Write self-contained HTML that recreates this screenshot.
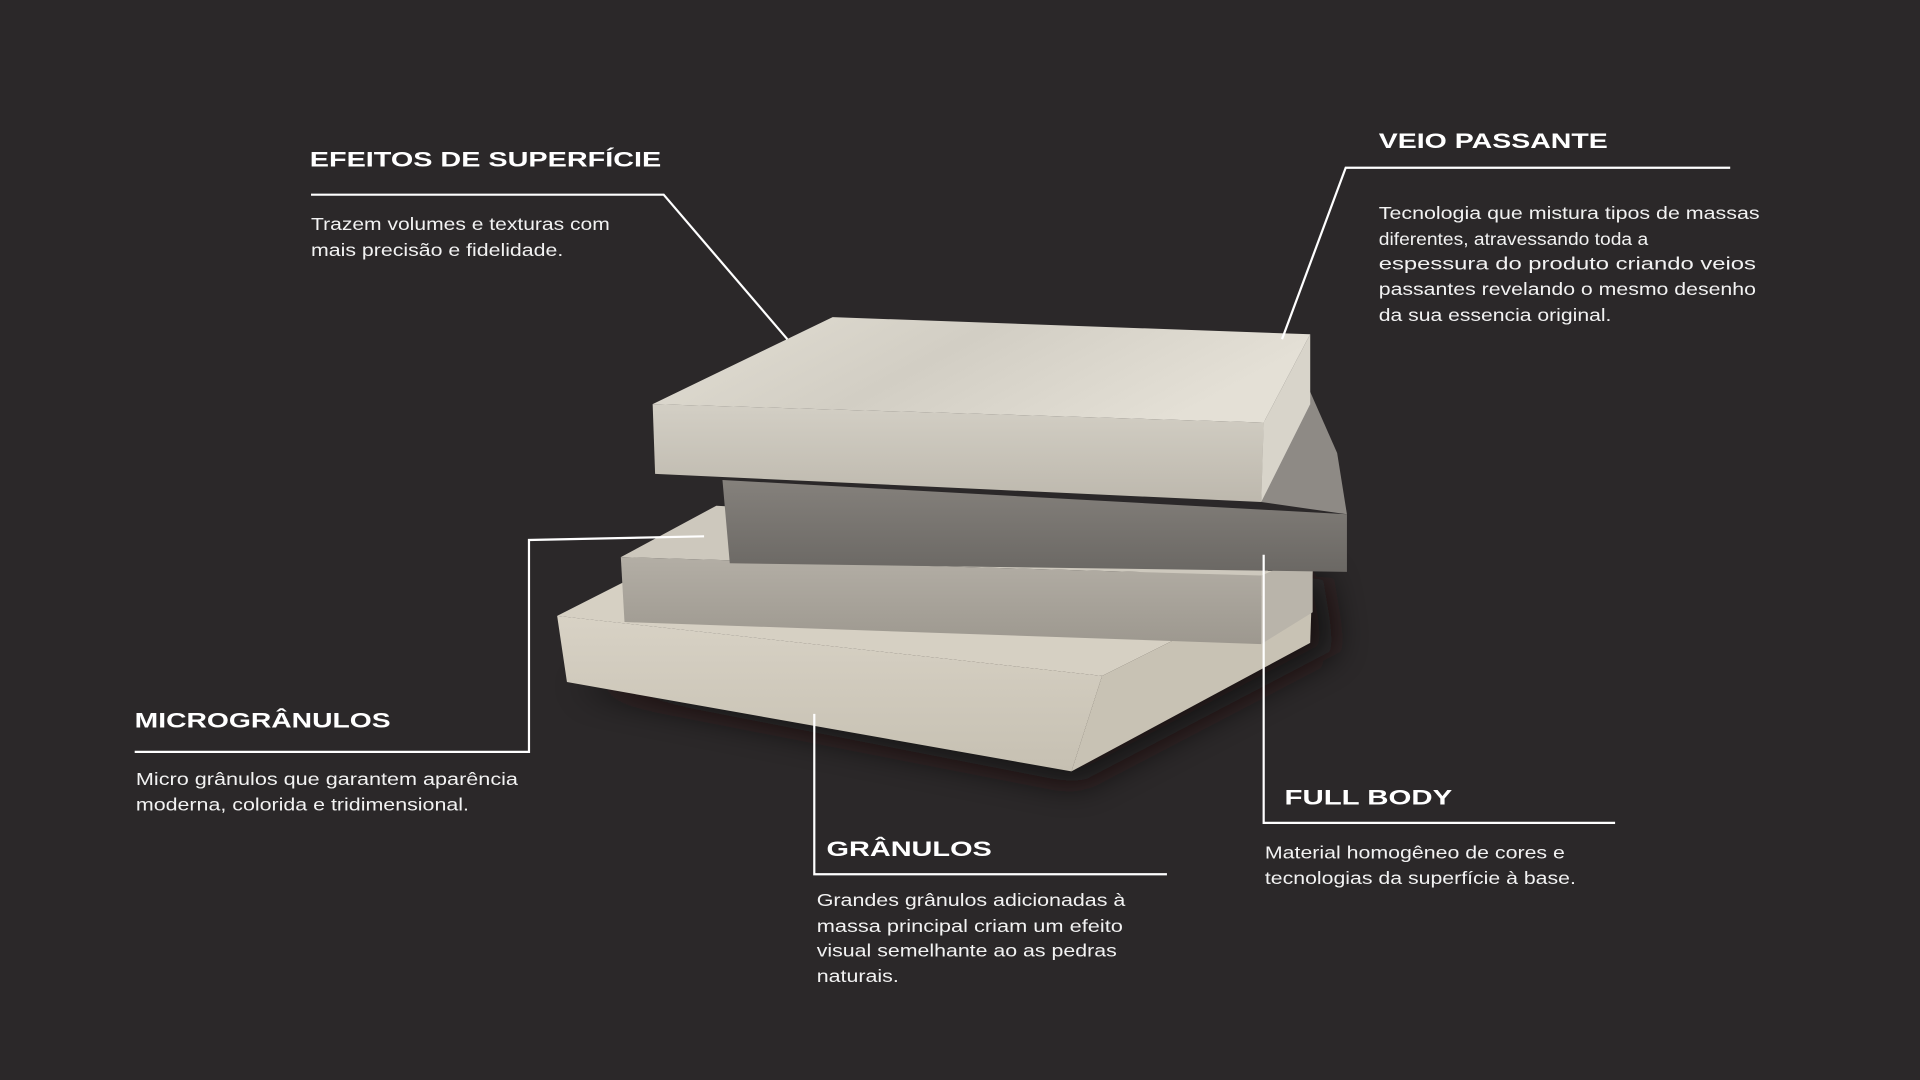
<!DOCTYPE html>
<html><head><meta charset="utf-8"><style>
html,body{margin:0;padding:0;background:#2b2829;width:1920px;height:1080px;overflow:hidden}
svg{display:block}
.t{font-family:"Liberation Sans",sans-serif;font-weight:bold;font-size:17.5px;fill:#fff}
.b{font-family:"Liberation Sans",sans-serif;font-size:14.5px;fill:#f2f2f2}
.l{fill:none;stroke:#fff;stroke-width:1.8}
</style></head><body>
<svg width="1920" height="1080" viewBox="0 0 1568 882" xmlns="http://www.w3.org/2000/svg">
<defs>
<filter id="bl" x="-50%" y="-50%" width="200%" height="200%"><feGaussianBlur stdDeviation="14"/></filter>
<linearGradient id="topg" x1="0" y1="0" x2="1" y2="0.3"><stop offset="0" stop-color="#e2ded3"/><stop offset="0.5" stop-color="#d2cec4"/><stop offset="1" stop-color="#e4e0d6"/></linearGradient>
<linearGradient id="frg" x1="0" y1="0" x2="0" y2="1"><stop offset="0" stop-color="#d3cfc5"/><stop offset="1" stop-color="#bdb8ad"/></linearGradient>
<linearGradient id="dkg" x1="0" y1="0" x2="0" y2="1"><stop offset="0" stop-color="#85817c"/><stop offset="1" stop-color="#6b6864"/></linearGradient>
<linearGradient id="mdg" x1="0" y1="0" x2="0" y2="1"><stop offset="0" stop-color="#b3aea5"/><stop offset="1" stop-color="#9d988f"/></linearGradient>
<linearGradient id="btg" x1="0" y1="0" x2="0" y2="1"><stop offset="0" stop-color="#d8d2c5"/><stop offset="1" stop-color="#c6c0b2"/></linearGradient>
</defs>
<rect width="1568" height="882" fill="#2b2829"/>
<polygon points="470,560 880,640 1090,530 1080,470" fill="#121011" filter="url(#bl)" opacity="0.85"/>
<!-- bottom slab -->
<polygon points="455,503 520,470 1072,466 900,552" fill="#d6d0c3"/>
<polygon points="455,503 900,552 875,630 463,557" fill="url(#btg)"/>
<polygon points="900,552 1072,466 1070,525 875,630" fill="#c8c2b4"/>
<!-- third slab -->
<polygon points="507,455 585,413 1072,440 1030,470" fill="#cdc8bd"/>
<polygon points="507,455 1030,470 1030,526 510,508" fill="url(#mdg)"/>
<polygon points="1030,470 1072,452 1072,500 1030,526" fill="#b9b4aa"/>
<!-- second slab -->
<polygon points="1030,345 1070,320 1092,370 1100,420 1030,410" fill="#8e8a85"/>
<polygon points="590,392 1100,420 1100,467 596,460" fill="url(#dkg)"/>
<!-- top slab -->
<polygon points="533,330 680,259 1070,273 1032,345" fill="url(#topg)"/>
<polygon points="533,330 1032,345 1030,410 535,387" fill="url(#frg)"/>
<polygon points="1032,345 1070,273 1070,330 1030,410" fill="#d8d4ca"/>
<!-- connectors -->
<path class="l" d="M254 159 H542 L643 277"/>
<path class="l" d="M1047 277 L1099 137 H1413"/>
<path class="l" d="M110 614 H432 V441 L575 438"/>
<path class="l" d="M665 583 V714 H953"/>
<path class="l" d="M1032 453 V672 H1319"/>
<!-- titles -->
<text class="t" x="253" y="136" textLength="287" lengthAdjust="spacingAndGlyphs">EFEITOS DE SUPERFÍCIE</text>
<text class="t" x="1126" y="121" textLength="187" lengthAdjust="spacingAndGlyphs">VEIO PASSANTE</text>
<text class="t" x="110" y="594" textLength="209" lengthAdjust="spacingAndGlyphs">MICROGRÂNULOS</text>
<text class="t" x="675" y="699" textLength="135" lengthAdjust="spacingAndGlyphs">GRÂNULOS</text>
<text class="t" x="1049" y="657" textLength="137" lengthAdjust="spacingAndGlyphs">FULL BODY</text>
<!-- bodies -->
<text class="b" x="254" y="188" textLength="244" lengthAdjust="spacingAndGlyphs">Trazem volumes e texturas com</text>
<text class="b" x="254" y="209" textLength="206" lengthAdjust="spacingAndGlyphs">mais precisão e fidelidade.</text>
<text class="b" x="1126" y="179" textLength="311" lengthAdjust="spacingAndGlyphs">Tecnologia que mistura tipos de massas</text>
<text class="b" x="1126" y="200" textLength="220" lengthAdjust="spacingAndGlyphs">diferentes, atravessando toda a</text>
<text class="b" x="1126" y="220" textLength="308" lengthAdjust="spacingAndGlyphs">espessura do produto criando veios</text>
<text class="b" x="1126" y="241" textLength="308" lengthAdjust="spacingAndGlyphs">passantes revelando o mesmo desenho</text>
<text class="b" x="1126" y="262" textLength="190" lengthAdjust="spacingAndGlyphs">da sua essencia original.</text>
<text class="b" x="111" y="641" textLength="312" lengthAdjust="spacingAndGlyphs">Micro grânulos que garantem aparência</text>
<text class="b" x="111" y="662" textLength="272" lengthAdjust="spacingAndGlyphs">moderna, colorida e tridimensional.</text>
<text class="b" x="667" y="740" textLength="252" lengthAdjust="spacingAndGlyphs">Grandes grânulos adicionadas à</text>
<text class="b" x="667" y="761" textLength="250" lengthAdjust="spacingAndGlyphs">massa principal criam um efeito</text>
<text class="b" x="667" y="781" textLength="245" lengthAdjust="spacingAndGlyphs">visual semelhante ao as pedras</text>
<text class="b" x="667" y="802" textLength="67" lengthAdjust="spacingAndGlyphs">naturais.</text>
<text class="b" x="1033" y="701" textLength="245" lengthAdjust="spacingAndGlyphs">Material homogêneo de cores e</text>
<text class="b" x="1033" y="722" textLength="254" lengthAdjust="spacingAndGlyphs">tecnologias da superfície à base.</text>
</svg>
</body></html>
